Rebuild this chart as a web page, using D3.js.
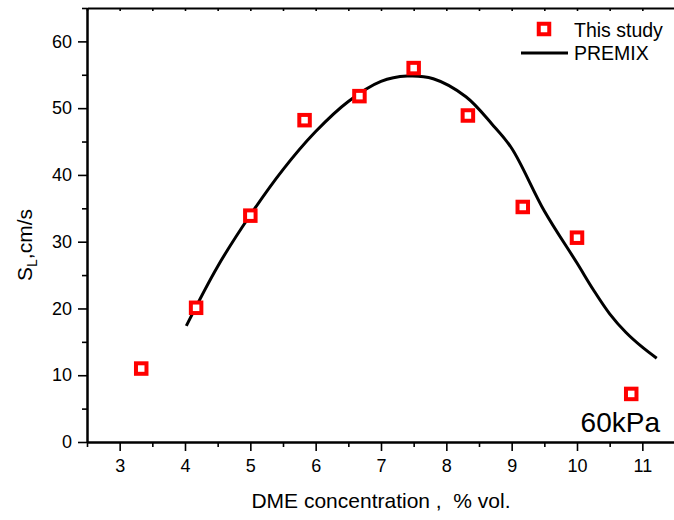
<!DOCTYPE html>
<html>
<head>
<meta charset="utf-8">
<script src="https://cdn.jsdelivr.net/npm/d3@7"></script>
<style>
  body { margin: 0; background: #fff; }
  svg { display: block; font-family: "Liberation Sans", Arial, sans-serif; }
</style>
</head>
<body>
<div id="chart"></div>
<script>
"use strict";

// measured points (This study)
const studyX = [3.33, 4.17, 5.0, 5.83, 6.67, 7.5, 8.33, 9.17, 10.0, 10.83];
const studyY = [11.0, 20.1, 33.9, 48.2, 51.8, 56.0, 48.9, 35.2, 30.6, 7.2];

// PREMIX computed curve
const premixX = [4.02, 4.5, 5.0, 5.5, 6.0, 6.5, 7.0, 7.4, 7.8, 8.3, 8.7, 9.0, 9.5, 10.0, 10.25, 10.5, 10.75, 11.0, 11.22];
const premixY = [17.4, 26.3, 34.0, 40.8, 46.5, 51.0, 54.0, 54.8, 54.4, 51.7, 47.6, 44.0, 34.6, 26.8, 22.8, 19.2, 16.4, 14.2, 12.55];

const xMajor = [3, 4, 5, 6, 7, 8, 9, 10, 11];
const xMinor = [2.5, 3.5, 4.5, 5.5, 6.5, 7.5, 8.5, 9.5, 10.5, 11.5];
const yMajor = [0, 10, 20, 30, 40, 50, 60];
const yMinor = [5, 15, 25, 35, 45, 55, 65];

const drawChart = () => {
  ///////////////////////////
  // canvas
  ///////////////////////////
  const W = 674, H = 520;
  const margin = { top: 8, right: -1, bottom: 78, left: 87 };
  const width = W - margin.left - margin.right,
    height = H - margin.top - margin.bottom;

  const svg = d3
    .select("#chart")
    .append("svg")
    .attr("width", W)
    .attr("height", H);

  const g = svg
    .append("g")
    .attr("transform", `translate(${margin.left}, ${margin.top})`);

  const x = d3.scaleLinear().domain([2.5, 11.5]).range([0, width]);
  const y = d3.scaleLinear().domain([0, 65]).range([height, 0]);

  ///////////////////////////
  // axes
  ///////////////////////////
  const styleAxis = (sel) => {
    sel.selectAll("path.domain").attr("stroke", "#000").attr("stroke-width", 2);
    sel.selectAll(".tick line").attr("stroke", "#000").attr("stroke-width", 1.6);
    sel.selectAll("text").attr("fill", "#000").style("font-size", "18px")
      .style("font-family", "'Liberation Sans', Arial, sans-serif");
  };

  // bottom minor + major
  g.append("g")
    .attr("transform", `translate(0, ${height})`)
    .call(d3.axisBottom(x).tickValues(xMinor).tickSize(5).tickSizeOuter(0).tickFormat(""))
    .call(styleAxis);
  g.append("g")
    .attr("transform", `translate(0, ${height})`)
    .call(d3.axisBottom(x).tickValues(xMajor).tickSize(9).tickSizeOuter(0).tickPadding(8).tickFormat(d3.format("d")))
    .call(styleAxis);

  // top border with small inward ticks
  g.append("g")
    .call(d3.axisBottom(x).tickValues(xMinor.concat(xMajor)).tickSize(3).tickSizeOuter(0).tickFormat(""))
    .call(styleAxis);

  // left minor + major
  g.append("g")
    .call(d3.axisLeft(y).tickValues(yMinor).tickSize(5).tickSizeOuter(0).tickFormat(""))
    .call(styleAxis);
  g.append("g")
    .call(d3.axisLeft(y).tickValues(yMajor).tickSize(9).tickSizeOuter(0).tickPadding(6).tickFormat(d3.format("d")))
    .call(styleAxis);

  ///////////////////////////
  // PREMIX curve
  ///////////////////////////
  const premix = premixX.map((v, i) => ({ x: v, y: premixY[i] }));
  const line = d3
    .line()
    .x((d) => x(d.x))
    .y((d) => y(d.y))
    .curve(d3.curveCatmullRom.alpha(0.5));

  g.append("path")
    .datum(premix)
    .attr("d", line)
    .attr("fill", "none")
    .attr("stroke", "#000")
    .attr("stroke-width", 3);

  ///////////////////////////
  // study points
  ///////////////////////////
  const study = studyX.map((v, i) => ({ x: v, y: studyY[i] }));
  const side = 10.5;
  g.selectAll("rect.pt")
    .data(study)
    .enter()
    .append("rect")
    .attr("class", "pt")
    .attr("x", (d) => x(d.x) - side / 2)
    .attr("y", (d) => y(d.y) - side / 2)
    .attr("width", side)
    .attr("height", side)
    .attr("fill", "#fff")
    .attr("stroke", "#ff0000")
    .attr("stroke-width", 4);

  ///////////////////////////
  // legend
  ///////////////////////////
  const leg = svg.append("g").attr("transform", "translate(520, 29)");
  leg.append("rect")
    .attr("x", 24 - side / 2)
    .attr("y", -side / 2)
    .attr("width", side)
    .attr("height", side)
    .attr("fill", "#fff")
    .attr("stroke", "#ff0000")
    .attr("stroke-width", 4);
  leg.append("text")
    .attr("x", 54)
    .attr("y", 7.5)
    .style("font-size", "19.5px")
    .text("This study");
  leg.append("line")
    .attr("x1", 1)
    .attr("x2", 48)
    .attr("y1", 24)
    .attr("y2", 24)
    .attr("stroke", "#000")
    .attr("stroke-width", 3);
  leg.append("text")
    .attr("x", 54)
    .attr("y", 31)
    .style("font-size", "19.5px")
    .text("PREMIX");

  ///////////////////////////
  // labels
  ///////////////////////////
  svg.append("text")
    .attr("x", 381)
    .attr("y", 508)
    .attr("text-anchor", "middle")
    .style("font-size", "21px")
    .style("white-space", "pre")
    .text("DME concentration ,  % vol.");

  const yt = svg.append("text")
    .attr("transform", "translate(32, 245) rotate(-90)")
    .attr("text-anchor", "middle")
    .style("font-size", "21px");
  yt.append("tspan").text("S");
  yt.append("tspan").attr("dy", 5).style("font-size", "14px").text("L");
  yt.append("tspan").attr("dy", -5).text(",cm/s");

  svg.append("text")
    .attr("x", 660)
    .attr("y", 432)
    .attr("text-anchor", "end")
    .style("font-size", "28px")
    .text("60kPa");
};

drawChart();
</script>
</body>
</html>
